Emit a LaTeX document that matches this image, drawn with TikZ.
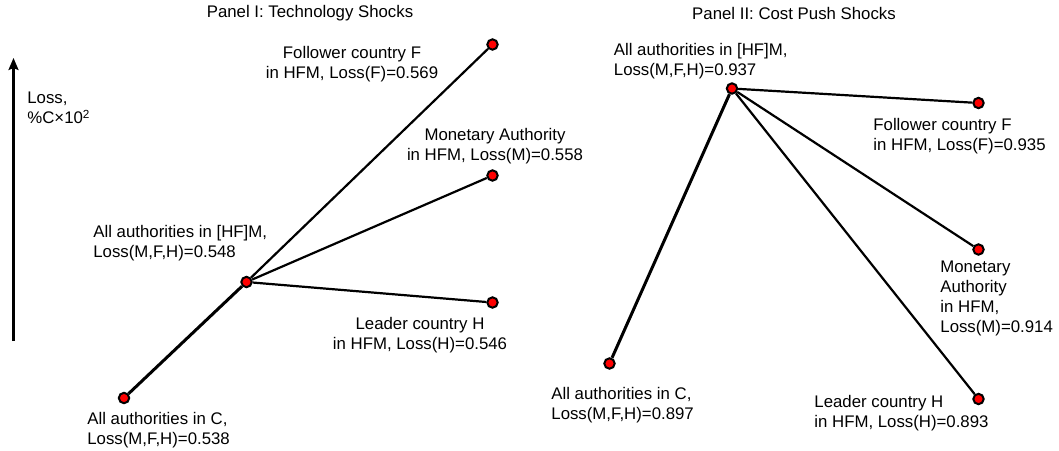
\documentclass[tikz,border=0pt]{standalone}
\usepackage{fontspec}
\setmainfont{Liberation Sans}
\usetikzlibrary{arrows.meta}
\begin{document}
\begin{tikzpicture}[x=0.5pt,y=-0.5pt,
    dot/.style={draw,circle,fill=red,line width=1pt,inner sep=0pt,minimum size=5.2pt},
    lbl/.style={inner sep=0pt,font=\fontsize{8.4}{10}\selectfont},
    link/.style={line width=1.1pt},
    main/.style={line width=1.5pt}]
    \useasboundingbox (0,0) rectangle (1059,450);

    % Panel I
    \node[lbl] (title1) at (310,13) {Panel I: Technology Shocks};
    \coordinate (ybot) at (13.5,341);
    \coordinate (ytop) at (13.5,58);
    \draw[line width=1.1pt,-{Stealth[length=6pt,width=5pt,inset=1pt]}] (ybot) -- (ytop);
    \node[lbl,anchor=west,align=left] (ylab) at (27,108) {Loss,\\\%C×10\textsuperscript{2}};

    \node[dot] (c1) at (124,398) {};
    \node[dot] (hfm1) at (246.5,282) {};
    \node[dot] (f1) at (492.5,44.5) {};
    \node[dot] (m1) at (492.5,175.5) {};
    \node[dot] (h1) at (492.5,302.5) {};

    \draw[main] (c1) -- (hfm1);
    \draw[link] (hfm1) -- (f1);
    \draw[link] (hfm1) -- (m1);
    \draw[link] (hfm1) -- (h1);

    \node[lbl,anchor=west,align=left] (c1lab) at (87,430) {All authorities in C,\\Loss(M,F,H)=0.538};
    \node[lbl,anchor=west,align=left] (hfm1lab) at (93,243) {All authorities in [HF]M,\\Loss(M,F,H)=0.548};
    \node[lbl,align=center] (f1lab) at (352,64) {Follower country F\\in HFM, Loss(F)=0.569};
    \node[lbl,align=center] (m1lab) at (495,146) {Monetary Authority\\in HFM, Loss(M)=0.558};
    \node[lbl,align=center] (h1lab) at (420,335) {Leader country H\\in HFM, Loss(H)=0.546};

    % Panel II
    \node[lbl] (title2) at (794,13) {Panel II: Cost Push Shocks};

    \node[dot] (c2) at (609.5,363.5) {};
    \node[dot] (hfm2) at (732,88.5) {};
    \node[dot] (f2) at (978.5,103) {};
    \node[dot] (m2) at (978.5,249.5) {};
    \node[dot] (h2) at (978.5,399) {};

    \draw[main] (c2) -- (hfm2);
    \draw[link] (hfm2) -- (f2);
    \draw[link] (hfm2) -- (m2);
    \draw[link] (hfm2) -- (h2);

    \node[lbl,anchor=west,align=left] (c2lab) at (551,405.5) {All authorities in C,\\Loss(M,F,H)=0.897};
    \node[lbl,anchor=west,align=left] (hfm2lab) at (613.5,61) {All authorities in [HF]M,\\Loss(M,F,H)=0.937};
    \node[lbl,anchor=west,align=left] (f2lab) at (873,136.5) {Follower country F\\in HFM, Loss(F)=0.935};
    \node[lbl,anchor=west,align=left] (m2lab) at (940,298) {Monetary\\Authority\\in HFM,\\Loss(M)=0.914};
    \node[lbl,anchor=west,align=left] (h2lab) at (814,413) {Leader country H\\in HFM, Loss(H)=0.893};
\end{tikzpicture}
\end{document}
